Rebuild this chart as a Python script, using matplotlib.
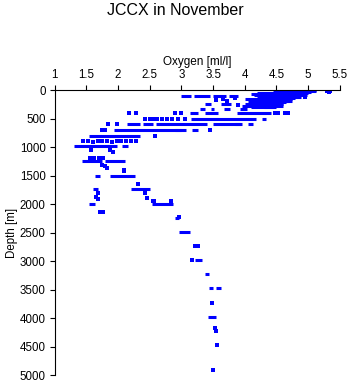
"""
plot.py
Oxygen vs depth profile scatter, JCCX cruise, November.
Dense horizontal runs of samples are kept as (depth, ox_from, ox_to) streaks,
isolated samples as (oxygen, depth) points.
"""

import matplotlib
matplotlib.use("Agg")
import matplotlib.pyplot as plt

plt.rcParams["font.family"] = ["Liberation Sans", "DejaVu Sans"]

TITLE  = "JCCX in November"
XLABEL = "Oxygen [ml/l]"
YLABEL = "Depth [m]"

X_TICKS = [1, 1.5, 2, 2.5, 3, 3.5, 4, 4.5, 5, 5.5]
Y_TICKS = [0, 500, 1000, 1500, 2000, 2500, 3000, 3500, 4000, 4500, 5000]

# ---- dense runs: depth [m], oxygen from, oxygen to ----
STREAK_DEPTH = [5, 20, 35, 50, 65, 80, 95, 110, 125, 140, 155, 170, 185, 200,
                215, 230, 245, 260, 275, 290, 305,
                100, 100, 100, 100,
                240, 240, 325, 325, 325, 325,
                400, 400, 400,
                505, 505,
                600, 600, 600, 600, 600, 600,
                697, 697, 697,
                800, 990, 990,
                1237, 1237,
                1500, 1500,
                1742, 1742,
                2000, 2000,
                2250, 2490, 2980, 3225, 3480, 3480, 3975]
STREAK_LO    = [4.55, 4.50, 4.45, 4.20, 4.10, 4.15, 4.20, 4.30, 4.25, 4.20, 4.00,
                4.10, 4.20, 4.05, 4.15, 4.30, 4.00, 4.20, 3.95, 4.10, 4.30,
                3.00, 3.20, 3.50, 3.75,
                3.37, 3.63, 3.30, 3.47, 3.68, 3.92,
                3.13, 3.37, 3.87,
                3.15, 4.27,
                2.14, 2.40, 2.60, 3.50, 3.84, 4.05,
                1.93, 2.90, 3.16,
                1.55, 1.30, 2.06,
                1.44, 1.80,
                1.64, 1.87,
                1.60, 2.21,
                1.54, 2.53,
                2.90, 2.97, 3.22, 3.37, 3.43, 3.55, 3.42]
STREAK_HI    = [5.13, 5.13, 5.05, 5.00, 4.95, 4.98, 4.90, 4.85, 4.88, 4.80, 4.75,
                4.70, 4.75, 4.70, 4.65, 4.60, 4.60, 4.55, 4.60, 4.50, 4.45,
                3.15, 3.45, 3.70, 3.90,
                3.47, 3.79, 3.37, 3.52, 3.76, 4.03,
                3.26, 3.58, 4.42,
                4.18, 4.34,
                2.34, 2.55, 3.40, 3.95, 3.92, 4.13,
                3.00, 3.08, 3.26,
                2.34, 1.98, 2.16,
                1.75, 2.11,
                1.71, 2.27,
                1.68, 2.50,
                1.64, 2.86,
                2.97, 3.13, 3.33, 3.43, 3.50, 3.62, 3.55]

# ---- isolated samples: oxygen [ml/l], depth [m] ----
POINT_OX    = [5.29, 5.35, 5.33, 3.55, 3.65, 3.72, 3.85, 4.95, 3.9,
               2.18, 2.28, 2.90, 3.00, 4.47, 4.53, 4.63, 4.68,
               2.42, 2.50, 2.55, 2.62, 2.70, 2.78, 2.85, 2.95, 3.05,
               1.85, 1.98,
               1.74, 1.79, 3.45,
               2.58,
               1.45, 1.52, 1.60, 1.68, 1.75, 1.82, 1.90, 1.98, 2.05, 2.12, 2.20, 2.29,
               1.58, 1.87, 1.92,
               1.56, 1.62, 1.70, 1.77,
               1.74, 1.80, 1.83,
               2.10, 2.09,
               2.31, 1.69, 2.42, 1.66, 2.45, 1.69, 2.57, 2.83, 2.55,
               1.72, 1.77,
               2.31, 2.96, 3.21, 3.27, 3.16, 3.48, 3.53, 3.55, 3.56, 3.50]
POINT_DEPTH = [20, 20, 30, 180, 160, 200, 140, 130, 260,
               405, 405, 400, 400, 400, 400, 400, 400,
               505, 505, 505, 505, 505, 505, 505, 505, 505,
               598, 598,
               697, 697, 697,
               800,
               900, 890, 905, 895, 900, 890, 905, 900, 890, 900, 895, 900,
               1057, 1057, 1080,
               1190, 1185, 1190, 1185,
               1320, 1330, 1370,
               1428, 1410,
               1655, 1800, 1800, 1880, 1900, 1920, 1944, 1944, 1944,
               2134, 2140,
               1655, 2230, 2735, 2735, 2980, 3730, 4180, 4220, 4475, 4915]

BLUE = "#0000ff"

fig = plt.figure(figsize=(3.5, 3.84), dpi=100)
ax = fig.add_axes([0.156, 0.0234, 0.815, 0.7422])

ax.hlines(STREAK_DEPTH, STREAK_LO, STREAK_HI, colors=BLUE, linewidth=2.2,
          capstyle="butt")
ax.plot(POINT_OX, POINT_DEPTH, ls="none", marker="s", ms=2.2, mew=0, color=BLUE)

ax.set_xlim(1, 5.5)
ax.set_ylim(5000, 0)
ax.xaxis.tick_top()
ax.xaxis.set_label_position("top")
ax.set_xticks(X_TICKS)
ax.set_xticklabels([f"{v:g}" for v in X_TICKS])
ax.set_yticks(Y_TICKS)
ax.tick_params(axis="both", labelsize=8.3, length=3.5, width=0.8, pad=3,
               color="black")
for s in ("right", "bottom"):
    ax.spines[s].set_visible(False)
for s in ("top", "left"):
    ax.spines[s].set_linewidth(0.8)

ax.set_xlabel(XLABEL, fontsize=8.5, labelpad=3)
ax.set_ylabel(YLABEL, fontsize=8.3, labelpad=1)
fig.text(0.5, 0.972, TITLE, ha="center", va="center", fontsize=11.5)

fig.savefig("out.png", dpi=100)
